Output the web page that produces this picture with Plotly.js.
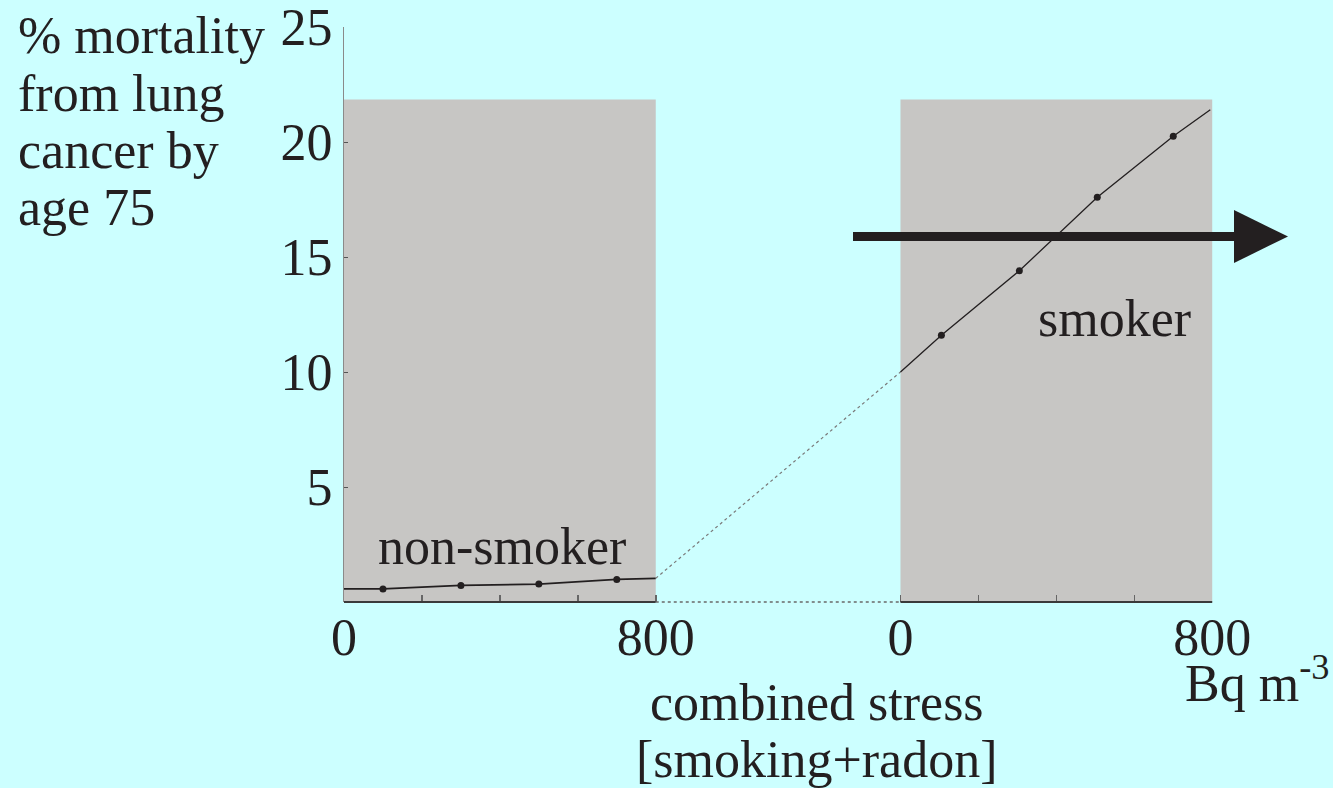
<!DOCTYPE html>
<html>
<head>
<meta charset="utf-8">
<script src="https://cdn.plot.ly/plotly-3.0.1.min.js"></script>
<style>html,body{margin:0;padding:0;background:#ccffff;}#chart{width:1333px;height:788px;}</style>
</head>
<body>
<div id="chart"></div>
<script>
// ---- data ----
const panelOffset = 1428;             // start of the "smoker" radon panel on the shared axis
const radonTicks = [0, 200, 400, 600, 800];
const radonTickText = ['0', '', '', '', '800'];
const yTicks = [5, 10, 15, 20, 25];
const bandTop = 21.85;

const nonSmokerRadon = [100, 300, 500, 700];
const nonSmokerMortality = [0.57, 0.72, 0.78, 0.98];
const nonSmokerLineRadon = [0, 100, 300, 500, 700, 800];
const nonSmokerLineMortality = [0.57, 0.57, 0.72, 0.78, 0.98, 1.03];

const smokerRadon = [105, 305, 505, 700];
const smokerMortality = [11.6, 14.4, 17.6, 20.25];
const smokerLineRadon = [0, 105, 305, 505, 700, 795];
const smokerLineMortality = [10.0, 11.6, 14.4, 17.6, 20.25, 21.4];

const yTitleLines = ['% mortality', 'from lung', 'cancer by', 'age 75'];
const xTitleLines = ['combined stress', '[smoking+radon]'];
const unitLabel = 'Bq m<sup>-3</sup>';
const groupLabels = ['non-smoker', 'smoker'];

// ---- geometry helpers (pixel -> paper) ----
const W = 1333, H = 788;
const M = {l: 344, r: 120, t: 27, b: 186};
const PW = W - M.l - M.r, PH = H - M.t - M.b;
const xp = px => (px - M.l) / PW;
const yp = py => (H - M.b - py) / PH;
const xRange = [0, 2230];
const dx = v => (v - xRange[0]) / (xRange[1] - xRange[0]);

const ink = '#231f20';
const font = {family: '"Liberation Serif", "Times New Roman", serif', size: 52, color: ink};

const shift = arr => arr.map(v => v + panelOffset);

const traces = [
  {x: nonSmokerLineRadon, y: nonSmokerLineMortality, mode: 'lines', line: {color: ink, width: 1.8}, hoverinfo: 'skip'},
  {x: nonSmokerRadon, y: nonSmokerMortality, mode: 'markers', marker: {color: ink, size: 7}},
  {x: [nonSmokerLineRadon[nonSmokerLineRadon.length - 1], panelOffset + smokerLineRadon[0]],
   y: [nonSmokerLineMortality[nonSmokerLineMortality.length - 1], smokerLineMortality[0]],
   mode: 'lines', line: {color: '#7a7a7a', width: 1.2, dash: 'dot'}},
  {x: shift(smokerLineRadon), y: smokerLineMortality, mode: 'lines', line: {color: ink, width: 1.3}},
  {x: shift(smokerRadon), y: smokerMortality, mode: 'markers', marker: {color: ink, size: 7}}
];

const shapes = [
  {type: 'rect', xref: 'x', yref: 'y', x0: 0, x1: 800, y0: 0, y1: bandTop, fillcolor: '#c7c6c4', line: {width: 0}, layer: 'below'},
  {type: 'rect', xref: 'x', yref: 'y', x0: panelOffset, x1: panelOffset + 800, y0: 0, y1: bandTop, fillcolor: '#c7c6c4', line: {width: 0}, layer: 'below'},
  // x baseline segments
  {type: 'line', xref: 'paper', yref: 'paper', x0: dx(0), x1: dx(800), y0: 0, y1: 0, line: {color: '#3a3a3a', width: 2}},
  {type: 'line', xref: 'paper', yref: 'paper', x0: dx(800), x1: dx(panelOffset), y0: 0, y1: 0, line: {color: '#6a6a6a', width: 1.5, dash: 'dot'}},
  {type: 'line', xref: 'paper', yref: 'paper', x0: dx(panelOffset), x1: dx(panelOffset + 800), y0: 0, y1: 0, line: {color: '#3a3a3a', width: 2}},
  // big arrow
  {type: 'rect', xref: 'paper', yref: 'paper', x0: xp(853), x1: xp(1236), y0: yp(241), y1: yp(232), fillcolor: ink, line: {width: 0}},
  {type: 'path', xref: 'paper', yref: 'paper',
   path: `M ${xp(1234)} ${yp(210)} L ${xp(1288)} ${yp(236.5)} L ${xp(1234)} ${yp(263)} Z`,
   fillcolor: ink, line: {width: 0}}
];

const ann = (text, px, py, xanchor, yanchor, extra) => Object.assign({
  text, xref: 'paper', yref: 'paper', x: xp(px), y: yp(py), xanchor, yanchor,
  showarrow: false, font: font, borderpad: 0
}, extra || {});

const yTitleBaselines = [53, 111, 168, 225];
const annotations = [];
yTitleLines.forEach((t, i) => annotations.push(ann(t, 17, yTitleBaselines[i] + 12, 'left', 'bottom')));
const xTitleBaselines = [720, 777];
xTitleLines.forEach((t, i) => annotations.push(ann(t, 817, xTitleBaselines[i] + 12, 'center', 'bottom')));
annotations.push(ann(unitLabel, 1184, 713, 'left', 'bottom'));
annotations.push(ann(groupLabels[0], 502, 576, 'center', 'bottom'));
annotations.push(ann(groupLabels[1], 1114, 348, 'center', 'bottom'));

const layout = {
  width: W, height: H,
  margin: M,
  paper_bgcolor: '#ccffff', plot_bgcolor: 'rgba(0,0,0,0)',
  showlegend: false,
  font: font,
  xaxis: {
    range: xRange, showgrid: false, zeroline: false, showline: false,
    tickmode: 'array',
    tickvals: radonTicks.concat(shift(radonTicks)),
    ticktext: radonTickText.concat(radonTickText),
    ticks: 'inside', ticklen: 7, tickwidth: 1.5, tickcolor: '#666',
    tickfont: font, fixedrange: true, ticklabeloverflow: 'allow'
  },
  yaxis: {
    range: [0, 25], showgrid: false, zeroline: false,
    showline: true, linecolor: '#8a8a8a', linewidth: 1,
    tickmode: 'array', tickvals: yTicks, ticktext: yTicks.map(String),
    ticks: 'inside', ticklen: 4, tickwidth: 1, tickcolor: '#555',
    tickfont: font, fixedrange: true, ticklabeloverflow: 'allow'
  },
  shapes, annotations
};

Plotly.newPlot('chart', traces, layout, {displayModeBar: false, staticPlot: true});
</script>
</body>
</html>
